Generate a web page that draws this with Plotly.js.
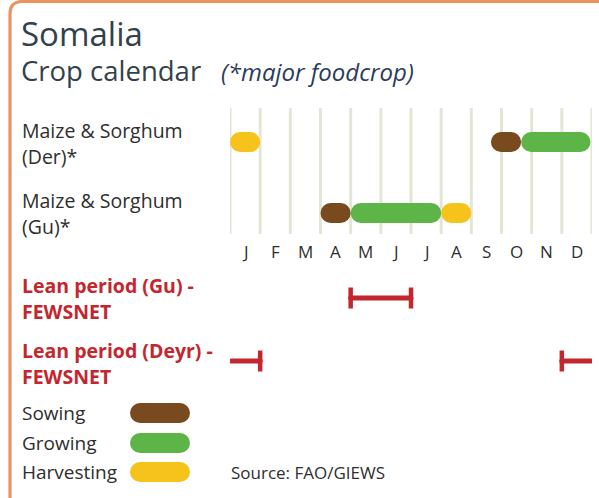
<!DOCTYPE html>
<html>
<head>
<meta charset="utf-8">
<script src="https://cdn.plot.ly/plotly-3.0.1.min.js"></script>
<style>
  html, body { margin: 0; padding: 0; background: #ffffff; }
  #chart { width: 599px; height: 498px; }
  .js-line { stroke-linecap: round; }
</style>
</head>
<body>
<div id="chart"></div>
<script>
// ---------------- DATA ----------------
const MONTHS = ['J', 'F', 'M', 'A', 'M', 'J', 'J', 'A', 'S', 'O', 'N', 'D'];
const CROP_LABELS = [['Maize & Sorghum', '(Der)*'], ['Maize & Sorghum', '(Gu)*']];
// periods in months counted from 1 January (0 = Jan 1, 12 = Dec 31)
const SOWING = [[8.65, 9.65], [3, 4]];
const GROWING = [[9.65, 11.95], [4, 7]];
const HARVESTING = [[0, 1], [7, 8]];
const LEAN_LABELS = [['Lean period (Gu) -', 'FEWSNET'], ['Lean period (Deyr) -', 'FEWSNET']];
const LEAN_START = [4, 11];
const LEAN_END = [6, 1];      // end < start means the period wraps over the year end
const PHASES = ['Sowing', 'Growing', 'Harvesting'];
const TITLE = 'Somalia';
const SUBTITLE = 'Crop calendar';
const SUBNOTE = '(*major foodcrop)';
const SOURCE = 'Source: FAO/GIEWS';

// ---------------- STYLE / LAYOUT ----------------
const W = 599, H = 498;
const X0 = 230, X1 = 592;                   // pixel span of the 12 months
const PX_PER_MONTH = (X1 - X0) / 12;
const BAR_W = 20;                           // bar thickness (px)
const INSET = (BAR_W / 2) / PX_PER_MONTH;   // round cap radius in month units
const COLORS = { Sowing: '#7a4a1f', Growing: '#5db548', Harvesting: '#f6c21c' };
const RED = '#c4262e';
const TXT = '#2e2e2e';
const FONT = 'Open Sans, Noto Sans, sans-serif';
const CROP_Y = [142, 213];
const LEAN_Y = [298, 361];
const LABEL_LINE_Y = [[130, 156], [200, 226], [285, 311], [350, 376]];
const GRID_Y = [108, 234];
const MONTH_Y = 251;
const LEG_Y = [413, 443, 472];
const LEG_X = [140, 180];
const LABEL_X = 20 / W;

const traces = [];
const phaseData = { Sowing: SOWING, Growing: GROWING, Harvesting: HARVESTING };
PHASES.forEach(p => {
  const xs = [], ys = [];
  phaseData[p].forEach((seg, i) => {
    xs.push(seg[0] + INSET, seg[1] - INSET, null);
    ys.push(CROP_Y[i], CROP_Y[i], null);
  });
  traces.push({
    type: 'scatter', mode: 'lines', x: xs, y: ys, xaxis: 'x', yaxis: 'y',
    line: { color: COLORS[p], width: BAR_W }, hoverinfo: 'skip', showlegend: false
  });
});

// lean periods
const leanX = [], leanY = [], capX = [], capY = [];
LEAN_START.forEach((s, i) => {
  const e = LEAN_END[i];
  if (e > s) {
    leanX.push(s, e, null); leanY.push(LEAN_Y[i], LEAN_Y[i], null);
    capX.push(s, e); capY.push(LEAN_Y[i], LEAN_Y[i]);
  } else {
    leanX.push(s, 11.95, null, 0.05, e, null);
    leanY.push(LEAN_Y[i], LEAN_Y[i], null, LEAN_Y[i], LEAN_Y[i], null);
    capX.push(s, e); capY.push(LEAN_Y[i], LEAN_Y[i]);
  }
});
traces.push({
  type: 'scatter', mode: 'lines', x: leanX, y: leanY, xaxis: 'x', yaxis: 'y',
  line: { color: RED, width: 5 }, hoverinfo: 'skip', showlegend: false
});
traces.push({
  type: 'scatter', mode: 'markers', x: capX, y: capY, xaxis: 'x', yaxis: 'y',
  marker: { symbol: 'line-ns', size: 15, line: { color: RED, width: 4.5 } },
  hoverinfo: 'skip', showlegend: false
});

// legend pills (pixel axis)
PHASES.forEach((p, i) => {
  traces.push({
    type: 'scatter', mode: 'lines', x: LEG_X, y: [LEG_Y[i], LEG_Y[i]], xaxis: 'x2', yaxis: 'y',
    line: { color: COLORS[p], width: BAR_W }, hoverinfo: 'skip', showlegend: false
  });
});

// shapes: grid lines + frame
const shapes = [];
for (let m = 0; m <= MONTHS.length; m++) {
  shapes.push({
    type: 'line', xref: 'x', yref: 'y', x0: m, x1: m, y0: GRID_Y[0], y1: GRID_Y[1],
    line: { color: '#e2e6d5', width: 3 }, layer: 'below'
  });
}
shapes.push({
  type: 'path', xref: 'x2', yref: 'y',
  path: 'M 10,498 L 10,14 Q 10,1.5 22,1.5 L 599,1.5',
  line: { color: '#ee9160', width: 3.2 }
});

// annotations
const ann = [];
function txt(x, y, text, size, color, extra) {
  ann.push(Object.assign({
    xref: 'paper', yref: 'y', x: x, y: y, text: text, showarrow: false,
    xanchor: 'left', yanchor: 'middle',
    font: { family: FONT, size: size, color: color }
  }, extra || {}));
}
txt(LABEL_X - 0.002, 33, TITLE, 33, '#33414b');
txt(LABEL_X - 0.002, 70, SUBTITLE, 27.5, '#33414b');
txt(219 / W, 71, '<i>' + SUBNOTE + '</i>', 24, '#2b3b5c');
CROP_LABELS.forEach((lines, i) => {
  lines.forEach((l, j) => txt(LABEL_X, LABEL_LINE_Y[i][j], l, 19.5, TXT));
});
LEAN_LABELS.forEach((lines, i) => {
  lines.forEach((l, j) => txt(LABEL_X, LABEL_LINE_Y[2 + i][j], '<b>' + l + '</b>', 19.5, RED));
});
MONTHS.forEach((m, i) => {
  ann.push({
    xref: 'x', yref: 'y', x: i + 0.5, y: MONTH_Y, text: m, showarrow: false,
    xanchor: 'center', yanchor: 'middle',
    font: { family: FONT, size: 17, color: TXT }
  });
});
PHASES.forEach((p, i) => txt(LABEL_X, LEG_Y[i], p, 19, TXT));
txt(229 / W, LEG_Y[2], SOURCE, 17, TXT);

const layout = {
  width: W, height: H,
  margin: { l: 0, r: 0, t: 0, b: 0, pad: 0 },
  paper_bgcolor: '#ffffff', plot_bgcolor: 'rgba(0,0,0,0)',
  showlegend: false,
  xaxis: { domain: [X0 / W, X1 / W], range: [0, 12], visible: false, fixedrange: true, anchor: 'y' },
  xaxis2: { domain: [0, 1], range: [0, W], visible: false, fixedrange: true, anchor: 'y' },
  yaxis: { domain: [0, 1], range: [H, 0], visible: false, fixedrange: true },
  shapes: shapes,
  annotations: ann
};

Plotly.newPlot('chart', traces, layout, { staticPlot: true, displayModeBar: false });
</script>
</body>
</html>
